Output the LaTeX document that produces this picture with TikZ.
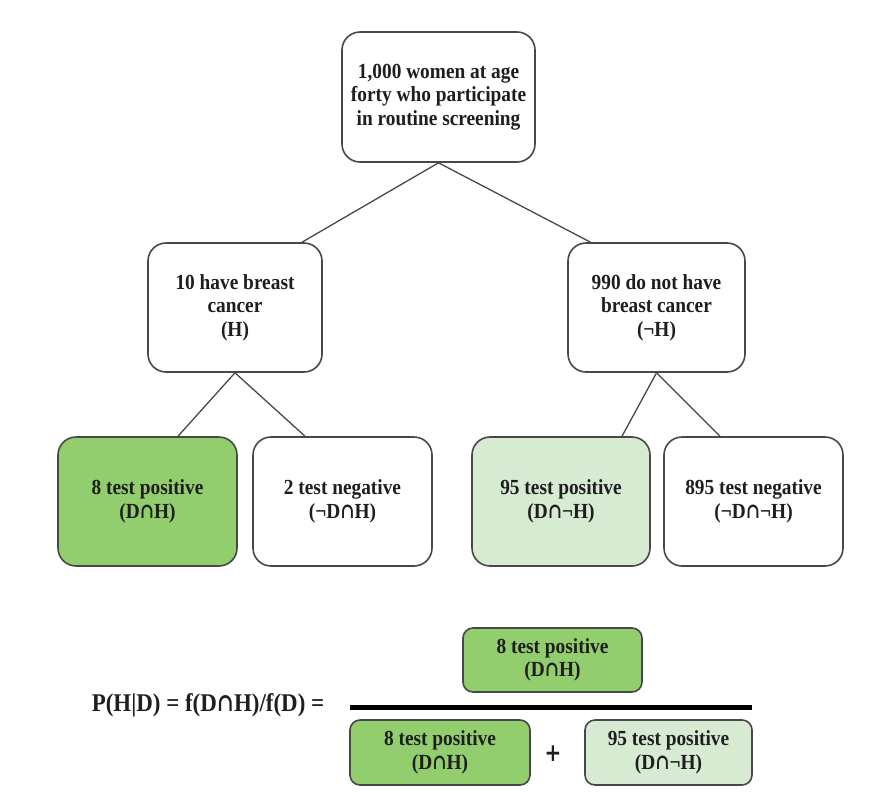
\documentclass[tikz,border=0pt]{standalone}
\usepackage{fontspec}
\setmainfont{Liberation Serif}[FakeStretch=0.9]
\newfontfamily\symf{DejaVu Serif}[FakeStretch=0.8]
\newcommand\isect{{\symf ∩}}
\usetikzlibrary{calc}
\definecolor{dkgreen}{RGB}{146,206,110}
\definecolor{ltgreen}{RGB}{215,235,210}
\definecolor{edgegray}{RGB}{72,72,72}
\definecolor{txt}{RGB}{30,30,30}
\begin{document}
\begin{tikzpicture}[x=1pt,y=-1pt,
  box/.style={draw=edgegray, line width=1.6pt, rounded corners=18pt, align=center,
    font=\bfseries\fontsize{21.5}{23.5}\selectfont, text=txt, inner sep=0pt,
    minimum width=179pt, minimum height=129pt},
  fbox/.style={box, rounded corners=10pt, minimum height=65pt},
  conn/.style={draw=edgegray, line width=1.3pt}
]
\useasboundingbox (0,0) rectangle (891,806);
% tree
\node[box, minimum width=193pt, minimum height=130pt] (top) at (438.5,97)
  {1,000 women at age\\forty who participate\\in routine screening};
\node[box, minimum width=174pt] (ml) at (235,307.5) {10 have breast\\cancer\\(H)};
\node[box, minimum width=177pt] (mr) at (656.5,307.5) {990 do not have\\breast cancer\\(¬H)};
\node[box, fill=dkgreen] (b1) at (147.5,501.5) {8 test positive\\(D\isect H)};
\node[box] (b2) at (342.5,501.5) {2 test negative\\(¬D\isect H)};
\node[box, fill=ltgreen, minimum width=178pt] (b3) at (561,501.5) {95 test positive\\(D\isect¬H)};
\node[box] (b4) at (753.5,501.5) {895 test negative\\(¬D\isect¬H)};
\draw[conn] (top.south) -- ([xshift=67pt]ml.north);
\draw[conn] (top.south) -- ([xshift=-66pt]mr.north);
\draw[conn] (ml.south) -- ([xshift=30.5pt]b1.north);
\draw[conn] (ml.south) -- ([xshift=-37.5pt]b2.north);
\draw[conn] (mr.south) -- ([xshift=61pt]b3.north);
\draw[conn] (mr.south) -- ([xshift=-33.5pt]b4.north);
% formula
\node[font=\bfseries\fontsize{25.5}{28}\selectfont, text=txt, inner sep=0pt] (eq) at (208,705)
  {P(H|D) = f(D\isect H)/f(D) =};
\node[fill=black, minimum width=402pt, minimum height=5pt, inner sep=0pt] (rule) at (551,707) {};
\node[fbox, fill=dkgreen, minimum width=179pt, minimum height=64pt] (num) at (552.5,660) {8 test positive\\(D\isect H)};
\node[fbox, fill=dkgreen, minimum width=180pt] (d1) at (440,752.5) {8 test positive\\(D\isect H)};
\node[font=\bfseries\fontsize{25}{27}\selectfont\symf, text=txt, inner sep=0pt] (plus) at (553,754) {+};
\node[fbox, fill=ltgreen, minimum width=167pt] (d2) at (668.5,752.5) {95 test positive\\(D\isect¬H)};
\end{tikzpicture}
\end{document}
